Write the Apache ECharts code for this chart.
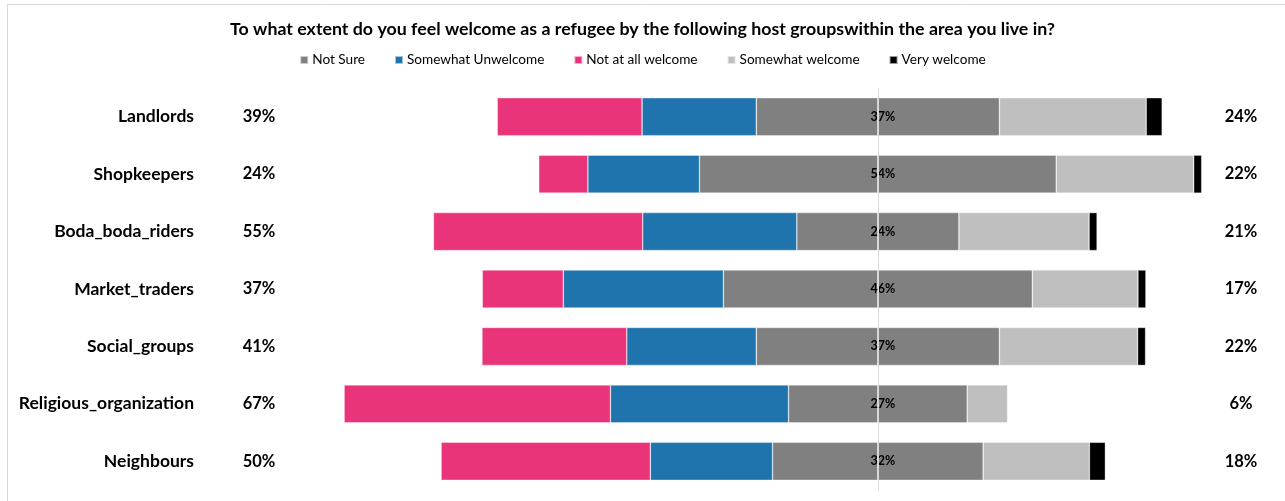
<!DOCTYPE html>
<html>
<head>
<meta charset="utf-8">
<script src="https://cdn.jsdelivr.net/npm/echarts@6/dist/echarts.min.js"></script>
<style>
  html, body { margin: 0; padding: 0; background: #fff; }
  #chart { width: 1285px; height: 501px; }
</style>
</head>
<body>
<div id="chart"></div>
<script>
  // host groups, top to bottom
  const groups = ['Landlords', 'Shopkeepers', 'Boda_boda_riders', 'Market_traders',
    'Social_groups', 'Religious_organization', 'Neighbours']

  // shares in percent
  const notSure = [36.6, 53.7, 24.4, 46.5, 36.6, 26.9, 31.7]
  const somewhatUnwelcome = [17.2, 16.8, 23.2, 24.1, 19.5, 26.8, 18.4]
  const notAtAllWelcome = [21.8, 7.4, 31.5, 12.2, 21.8, 40.1, 31.5]
  const somewhatWelcome = [22.1, 20.7, 19.6, 15.9, 20.8, 6.1, 16.0]
  const veryWelcome = [2.4, 1.2, 1.2, 1.2, 1.2, 0, 2.4]

  // printed labels
  const notSureLabels = ['37%', '54%', '24%', '46%', '37%', '27%', '32%']
  const leftTotals = ['39%', '24%', '55%', '37%', '41%', '67%', '50%']
  const rightTotals = ['24%', '22%', '21%', '17%', '22%', '6%', '18%']

  const font = 'Lato'
  const neg = arr => arr.map(v => -v)
  const half = arr => arr.map(v => v / 2)

  let chart = echarts.init(document.getElementById('chart'))

  const barBase = {
    type: 'bar',
    stack: 'total',
    barWidth: 38,
    itemStyle: { borderColor: 'rgba(255,255,255,0.6)', borderWidth: 0.6 },
    emphasis: { disabled: true }
  }

  let option = {
    animation: false,
    textStyle: { fontFamily: font },
    title: {
      text: 'To what extent do you feel welcome as a refugee by the following host groupswithin the area you live in?',
      left: 'center',
      top: 15,
      textStyle: { fontFamily: font, fontSize: 17.8, fontWeight: 'bold', color: '#000' }
    },
    legend: {
      data: ['Not Sure', 'Somewhat Unwelcome', 'Not at all welcome', 'Somewhat welcome', 'Very welcome'],
      top: 48,
      left: 'center',
      icon: 'rect',
      itemWidth: 8,
      itemHeight: 8,
      itemGap: 29,
      textStyle: { fontFamily: font, fontSize: 13.6, color: '#000', padding: [0, 0, 0, -1] }
    },
    graphic: [{
      type: 'polyline',
      silent: true,
      shape: { points: [[7.5, 501], [7.5, 4.5], [1285, 4.5]] },
      style: { stroke: '#d9d9d9', fill: null, lineWidth: 1 }
    }],
    grid: { left: 280, right: 75, top: 88, bottom: 11, containLabel: false },
    xAxis: { type: 'value', min: -90, max: 50, show: false },
    yAxis: [
      {
        type: 'category', inverse: true, data: groups, position: 'left',
        axisLine: { show: false }, axisTick: { show: false },
        axisLabel: { margin: 86, fontFamily: font, fontSize: 17.5, fontWeight: 'bold', color: '#000' }
      },
      {
        type: 'category', inverse: true, data: leftTotals, position: 'left',
        axisLine: { show: false }, axisTick: { show: false },
        axisLabel: { margin: 21, align: 'center', fontFamily: font, fontSize: 16.5, fontWeight: 'bold', color: '#000' }
      },
      {
        type: 'category', inverse: true, data: rightTotals, position: 'right',
        axisLine: { show: false }, axisTick: { show: false },
        axisLabel: { margin: 31, align: 'center', fontFamily: font, fontSize: 16.5, fontWeight: 'bold', color: '#000' }
      }
    ],
    series: [
      Object.assign({}, barBase, {
        name: 'Not Sure', data: neg(half(notSure)), itemStyle: Object.assign({}, barBase.itemStyle, { color: '#808080' })
      }),
      Object.assign({}, barBase, {
        name: 'Somewhat Unwelcome', data: neg(somewhatUnwelcome), itemStyle: Object.assign({}, barBase.itemStyle, { color: '#1F74AD' })
      }),
      Object.assign({}, barBase, {
        name: 'Not at all welcome', data: neg(notAtAllWelcome), itemStyle: Object.assign({}, barBase.itemStyle, { color: '#E9347A' })
      }),
      Object.assign({}, barBase, {
        name: 'Not Sure', data: half(notSure), itemStyle: Object.assign({}, barBase.itemStyle, { color: '#808080' }),
        label: {
          show: true,
          position: [5, '50%'],
          align: 'center',
          verticalAlign: 'middle',
          formatter: p => notSureLabels[p.dataIndex],
          fontFamily: font, fontSize: 12.5, fontWeight: 'bold', color: '#000'
        },
        markLine: {
          silent: true,
          symbol: 'none',
          label: { show: false },
          lineStyle: { color: '#d9d9d9', width: 1, type: 'solid' },
          data: [{ xAxis: 0 }]
        }
      }),
      Object.assign({}, barBase, {
        name: 'Somewhat welcome', data: somewhatWelcome, itemStyle: Object.assign({}, barBase.itemStyle, { color: '#BFBFBF' })
      }),
      Object.assign({}, barBase, {
        name: 'Very welcome', data: veryWelcome, itemStyle: Object.assign({}, barBase.itemStyle, { color: '#000000' })
      })
    ]
  }

  chart.setOption(option)
</script>
</body>
</html>
